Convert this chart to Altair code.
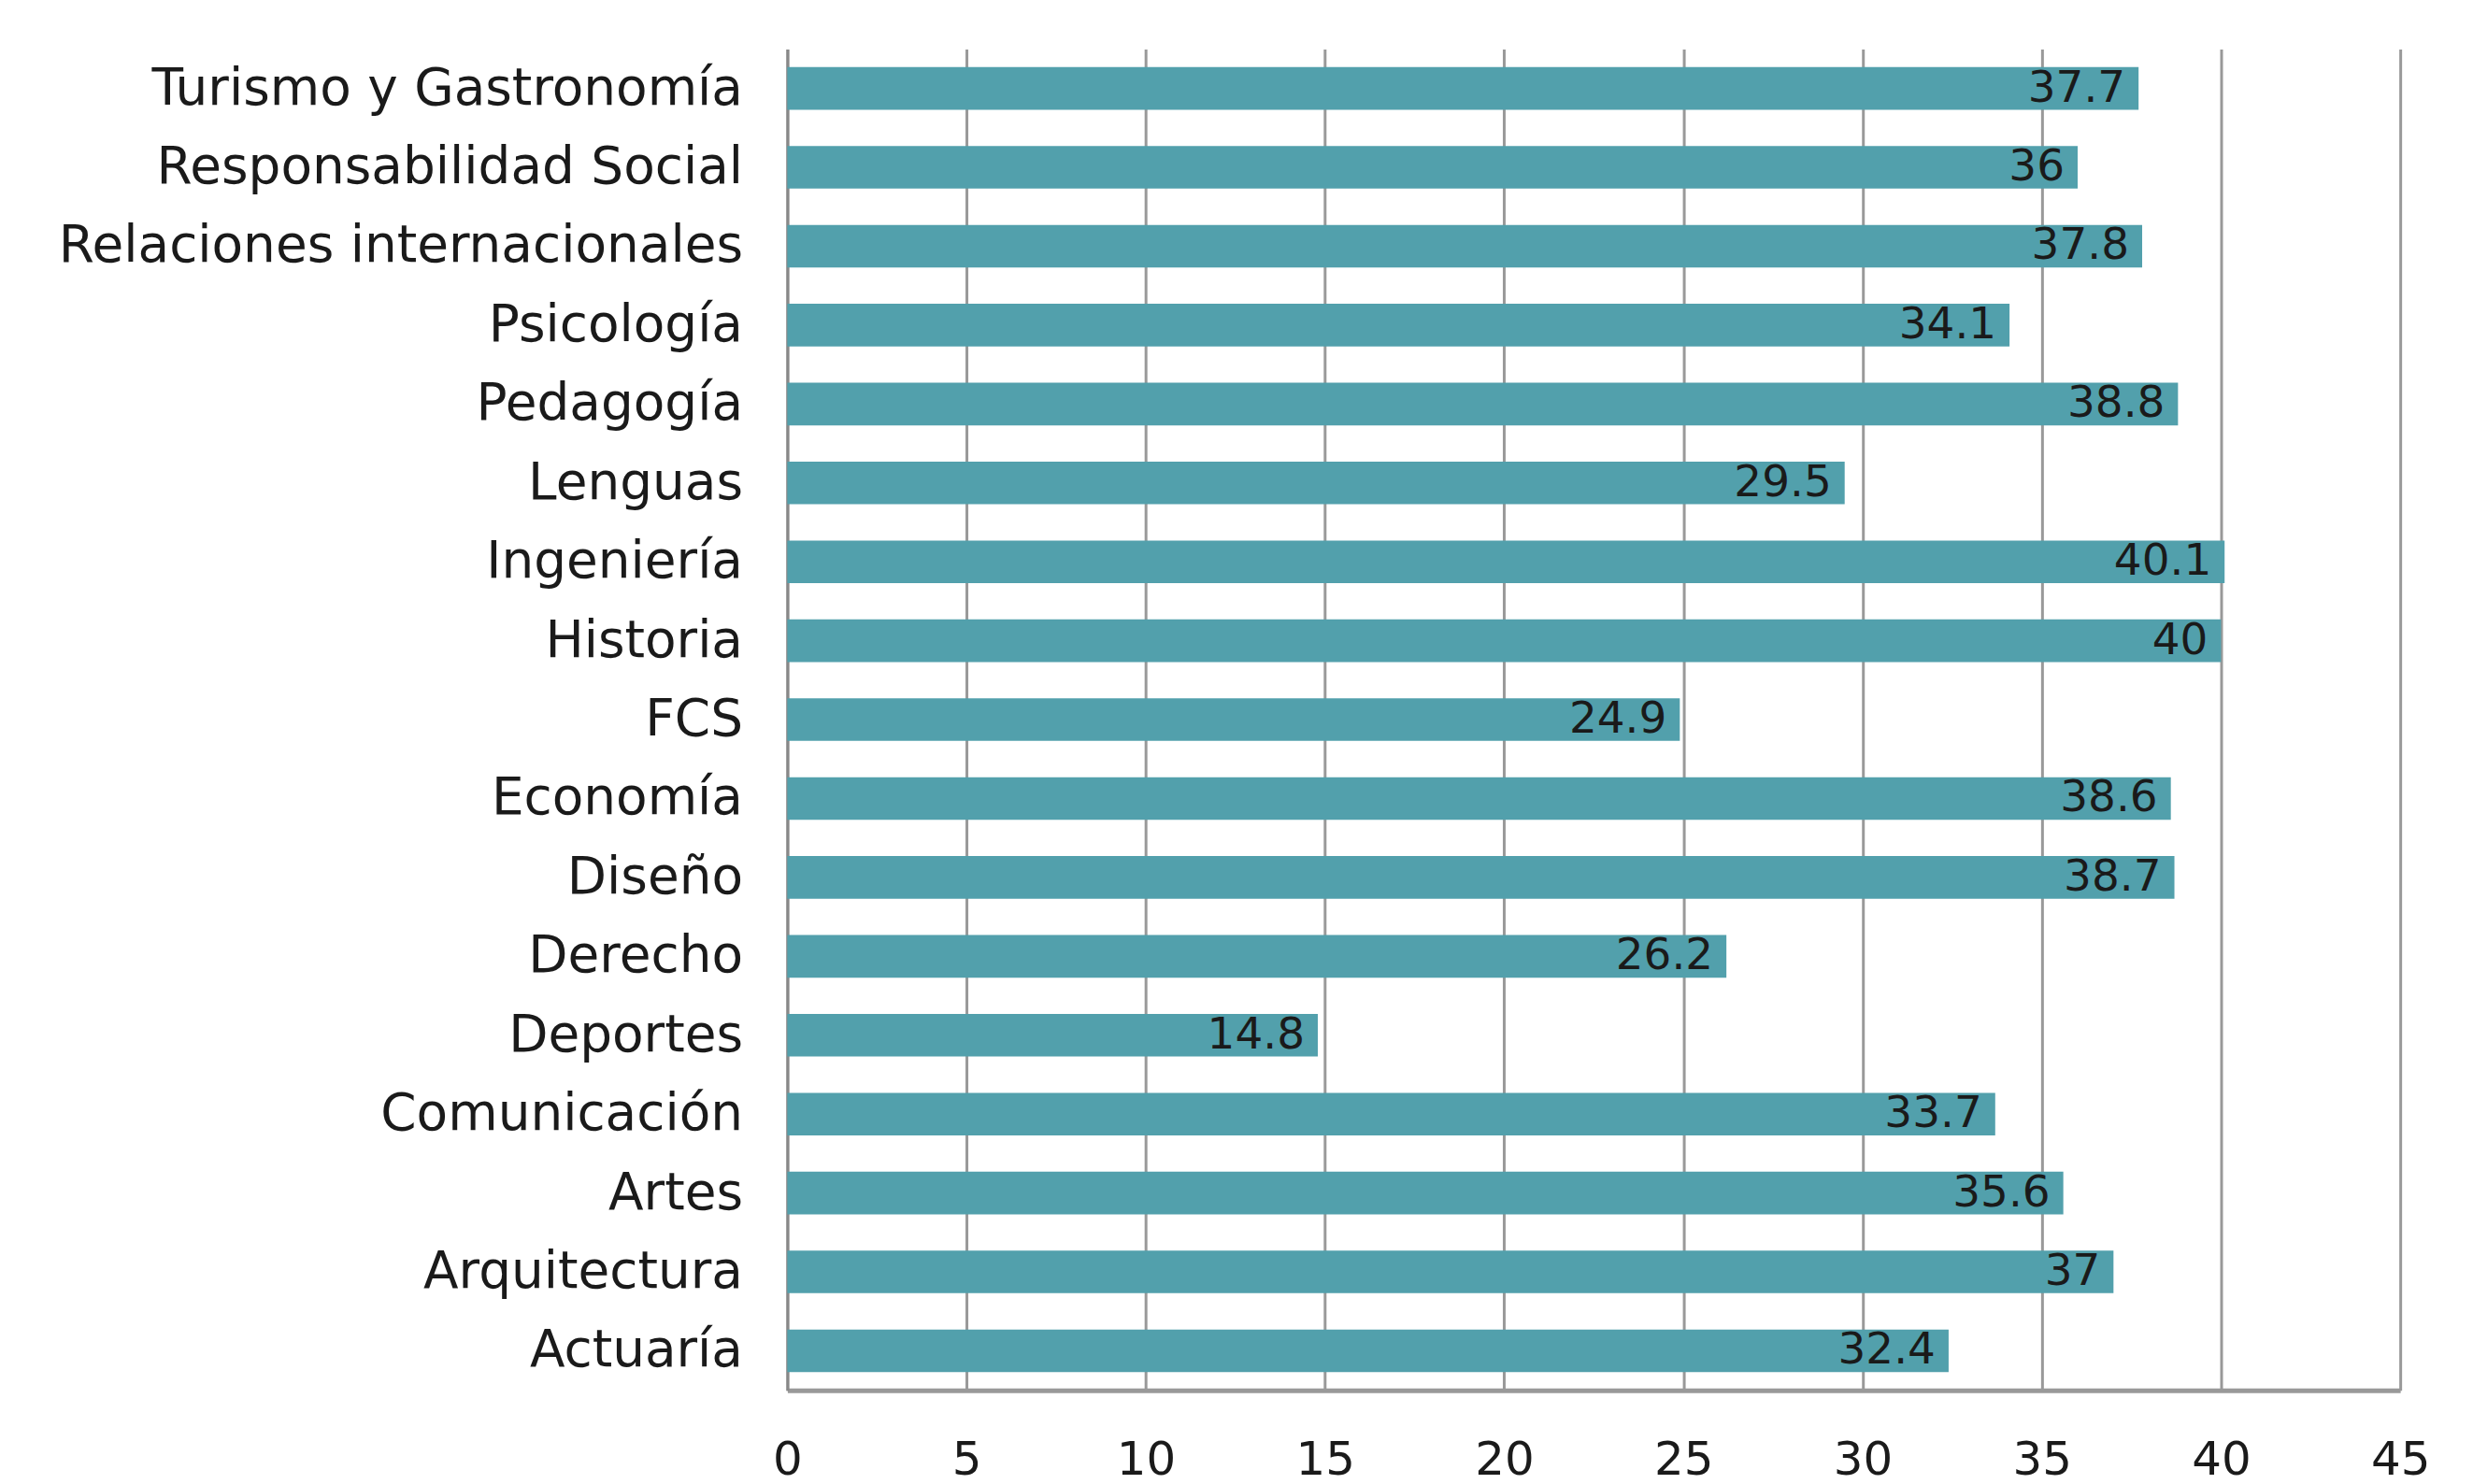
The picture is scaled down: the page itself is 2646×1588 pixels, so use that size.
import altair as alt
import pandas as pd

categories = ["Turismo y Gastronomía", "Responsabilidad Social", "Relaciones internacionales",
              "Psicología", "Pedagogía", "Lenguas", "Ingeniería", "Historia", "FCS",
              "Economía", "Diseño", "Derecho", "Deportes", "Comunicación", "Artes",
              "Arquitectura", "Actuaría"]
values = [37.7, 36, 37.8, 34.1, 38.8, 29.5, 40.1, 40, 24.9, 38.6, 38.7, 26.2, 14.8, 33.7, 35.6, 37, 32.4]
x_ticks = [0, 5, 10, 15, 20, 25, 30, 35, 40, 45]

df = pd.DataFrame({"cat": categories, "val": values})
df["label"] = [("%g" % v) for v in values]

FONT = "DejaVu Sans"
BAR = "#52a0ac"

base = alt.Chart(df).encode(
    y=alt.Y("cat:N", sort=categories, title=None,
            scale=alt.Scale(paddingInner=0.46, paddingOuter=0.23),
            axis=alt.Axis(labelFont=FONT, labelFontSize=55, labelColor="#1a1a1a",
                          labelPadding=48, labelLimit=0, ticks=False,
                          domainColor="#888888", domainWidth=3, grid=False)),
)

bars = base.mark_bar(color=BAR).encode(
    x=alt.X("val:Q", title=None,
            scale=alt.Scale(domain=[0, 45], nice=False),
            axis=alt.Axis(values=x_ticks, labelFont=FONT, labelFontSize=50,
                          labelColor="#1a1a1a", labelPadding=50, labelFlush=False,
                          ticks=False, domainColor="#999999", domainWidth=5,
                          grid=True, gridColor="#999999", gridWidth=3)),
)

text = base.mark_text(align="right", baseline="middle", dx=-14, font=FONT,
                      fontSize=47, color="#1a1a1a").encode(
    x=alt.X("val:Q"),
    text="label:N",
)

chart = (bars + text).properties(
    width=1729, height=1438,
    background="white",
    autosize=alt.AutoSizeParams(type="none"),
    padding={"left": 836, "top": 43, "right": 70, "bottom": 100},
).configure_view(stroke=None)

chart.save("out.html", embed_options={"renderer": "svg", "actions": False})
